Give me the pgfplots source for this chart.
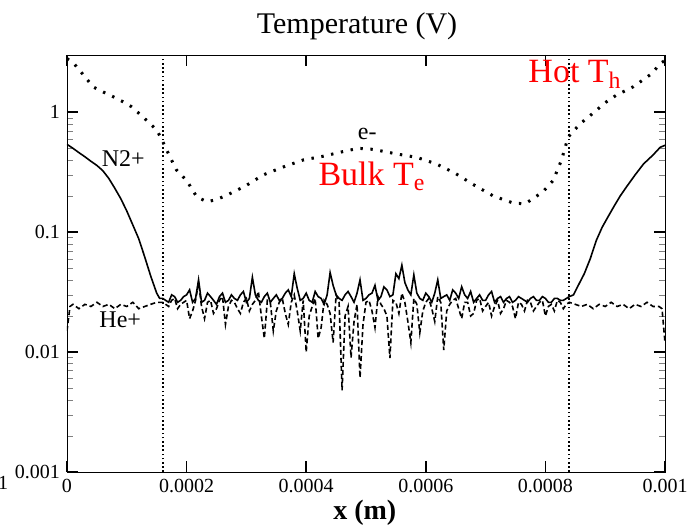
\documentclass[border=0pt]{standalone}
\usepackage{pgfplots}
\pgfplotsset{compat=1.18}
\usepackage{fontspec}
\setmainfont{Liberation Serif}
\begin{document}
\begin{tikzpicture}
\begin{axis}[
  at={(0,0)}, anchor=south west,
  scale only axis, width=299pt, height=208.5pt,
  xmin=0, xmax=0.001, ymode=log, ymin=0.001, ymax=3,
  xtick={0,0.0002,0.0004,0.0006,0.0008,0.001},
  xticklabels={\textrm{0},\textrm{0.0002},\textrm{0.0004},\textrm{0.0006},\textrm{0.0008},\textrm{0.001}},
  ytick={0.001,0.01,0.1,1},
  yticklabels={\textrm{0.001},\textrm{0.01},\textrm{0.1},\textrm{1}},
  scaled x ticks=false,
  tick label style={font=\fontsize{10}{12}\selectfont},
  major tick length=5.5pt,
  major tick style={draw=black, line width=0.8pt},
]
% vertical dotted lines
\addplot[black, line width=0.9pt, dash pattern=on 0.8pt off 1.3pt] coordinates {(0.00016,0.001) (0.00016,3)};
\addplot[black, line width=0.9pt, dash pattern=on 0.8pt off 1.3pt] coordinates {(0.00084,0.001) (0.00084,3)};
% e- dotted
\addplot[black, line width=1.5pt, dash pattern=on 1.2pt off 3.8pt] coordinates {
(0,2.8) (0.00001,2.6) (0.00002,2.27) (0.000044,1.62) (0.00006,1.48) (0.000078,1.34)
(0.000094,1.22) (0.000108,1.11) (0.000122,0.96) (0.000136,0.83) (0.00015,0.71)
(0.000158,0.60) (0.000167,0.48) (0.000183,0.33) (0.0002,0.27) (0.000217,0.197)
(0.000234,0.179) (0.00025,0.187) (0.000267,0.203) (0.000298,0.242) (0.000328,0.30)
(0.000362,0.35) (0.000395,0.40) (0.000429,0.43) (0.000462,0.47) (0.000487,0.50)
(0.000512,0.49) (0.00055,0.45) (0.000585,0.42) (0.000618,0.37) (0.000649,0.31)
(0.000679,0.25) (0.000713,0.20) (0.000746,0.175) (0.000766,0.172) (0.000796,0.217)
(0.000813,0.27) (0.000827,0.40) (0.000838,0.62) (0.000858,0.80) (0.000875,0.94)
(0.000902,1.22) (0.000919,1.39) (0.000947,1.63) (0.000978,2.1) (0.000992,2.55) (0.001,2.7)
};
% He+ dashed
\addplot[black, line width=0.8pt, dash pattern=on 2.5pt off 1.5pt] coordinates {
(0,0.015) (0.000005,0.024) (0.00001,0.025) (0.00002,0.023) (0.00003,0.025) (0.00004,0.024)
(0.00005,0.026) (0.00006,0.024) (0.00007,0.025) (0.00008,0.023) (0.00009,0.025)
(0.0001,0.024) (0.00011,0.026) (0.00012,0.023) (0.00013,0.024) (0.00014,0.025) (0.00015,0.026)
(0.00016,0.026) (0.000165,0.025) (0.00017,0.024) (0.000175,0.027) (0.00018,0.028) (0.000185,0.023)
(0.00019,0.025) (0.000195,0.026) (0.0002,0.027) (0.000205,0.019) (0.00021,0.022) (0.000215,0.027)
(0.00022,0.038) (0.000225,0.024) (0.00023,0.019) (0.000235,0.026) (0.00024,0.027) (0.000245,0.021)
(0.00025,0.023) (0.000255,0.027) (0.00026,0.029) (0.000265,0.017) (0.00027,0.024) (0.000275,0.027)
(0.00028,0.026) (0.000285,0.023) (0.00029,0.021) (0.000295,0.026) (0.0003,0.028) (0.000305,0.022)
(0.00031,0.025) (0.000315,0.027) (0.00032,0.032) (0.000325,0.020) (0.00033,0.013) (0.000335,0.027)
(0.00034,0.026) (0.000345,0.015) (0.00035,0.022) (0.000355,0.026) (0.00036,0.028) (0.000365,0.021)
(0.00037,0.017) (0.000375,0.026) (0.00038,0.030) (0.000385,0.022) (0.00039,0.015) (0.000395,0.027)
(0.0004,0.010) (0.000405,0.020) (0.00041,0.024) (0.000415,0.028) (0.00042,0.013) (0.000425,0.016)
(0.00043,0.027) (0.000435,0.025) (0.00044,0.021) (0.000445,0.012) (0.00045,0.030) (0.000455,0.026)
(0.00046,0.0048) (0.000465,0.020) (0.00047,0.024) (0.000475,0.009) (0.00048,0.018) (0.000485,0.025)
(0.00049,0.0061) (0.000495,0.017) (0.0005,0.026) (0.000505,0.027) (0.00051,0.022) (0.000515,0.016)
(0.00052,0.029) (0.000525,0.025) (0.00053,0.023) (0.000535,0.020) (0.00054,0.0089) (0.000545,0.027)
(0.00055,0.026) (0.000555,0.021) (0.00056,0.031) (0.000565,0.026) (0.00057,0.018) (0.000575,0.012)
(0.00058,0.028) (0.000585,0.025) (0.00059,0.0145) (0.000595,0.022) (0.0006,0.026) (0.000605,0.028)
(0.00061,0.023) (0.000615,0.018) (0.00062,0.029) (0.000625,0.026) (0.00063,0.0104) (0.000635,0.022)
(0.00064,0.025) (0.000645,0.027) (0.00065,0.028) (0.000655,0.023) (0.00066,0.019) (0.000665,0.026)
(0.00067,0.026) (0.000675,0.020) (0.00068,0.021) (0.000685,0.027) (0.00069,0.028) (0.000695,0.022)
(0.0007,0.024) (0.000705,0.026) (0.00071,0.020) (0.000715,0.024) (0.00072,0.027) (0.000725,0.021)
(0.00073,0.023) (0.000735,0.027) (0.00074,0.026) (0.000745,0.024) (0.00075,0.019) (0.000755,0.026)
(0.00076,0.025) (0.000765,0.022) (0.00077,0.027) (0.000775,0.026) (0.00078,0.022) (0.000785,0.024)
(0.00079,0.026) (0.000795,0.027) (0.0008,0.020) (0.000805,0.024) (0.00081,0.025) (0.000815,0.022)
(0.00082,0.027) (0.000825,0.026) (0.00083,0.023) (0.000835,0.025) (0.00084,0.026)
(0.00085,0.025) (0.00086,0.024) (0.00087,0.025) (0.00088,0.023) (0.00089,0.025)
(0.0009,0.024) (0.00091,0.026) (0.00092,0.024) (0.00093,0.025) (0.00094,0.023)
(0.00095,0.025) (0.00096,0.024) (0.00097,0.026) (0.00098,0.024) (0.00099,0.024)
(0.000995,0.023) (0.001,0.012)
};
% N2+ solid
\addplot[black, line width=0.8pt] coordinates {
(0,0.54) (0.00001,0.50) (0.00002,0.46) (0.00003,0.425) (0.00004,0.39) (0.00005,0.36)
(0.00006,0.325) (0.00007,0.28) (0.00008,0.232)
(0.00009,0.19) (0.0001,0.15) (0.00011,0.115) (0.00012,0.088) (0.00013,0.062)
(0.00014,0.043) (0.00015,0.031) (0.000155,0.028)
(0.00016,0.028) (0.000165,0.027) (0.00017,0.026) (0.000175,0.030) (0.00018,0.029) (0.000185,0.026)
(0.00019,0.027) (0.000195,0.029) (0.0002,0.030) (0.000205,0.033) (0.00021,0.026) (0.000215,0.028)
(0.00022,0.040) (0.000225,0.026) (0.00023,0.027) (0.000235,0.031) (0.00024,0.029) (0.000245,0.027)
(0.00025,0.025) (0.000255,0.029) (0.00026,0.031) (0.000265,0.026) (0.00027,0.027) (0.000275,0.030)
(0.00028,0.028) (0.000285,0.027) (0.00029,0.030) (0.000295,0.032) (0.0003,0.026) (0.000305,0.028)
(0.00031,0.042) (0.000315,0.030) (0.00032,0.027) (0.000325,0.026) (0.00033,0.029) (0.000335,0.031)
(0.00034,0.026) (0.000345,0.028) (0.00035,0.030) (0.000355,0.027) (0.00036,0.028) (0.000365,0.031)
(0.00037,0.033) (0.000375,0.029) (0.00038,0.045) (0.000385,0.034) (0.00039,0.027) (0.000395,0.028)
(0.0004,0.031) (0.000405,0.027) (0.00041,0.026) (0.000415,0.032) (0.00042,0.029) (0.000425,0.028)
(0.00043,0.025) (0.000435,0.030) (0.00044,0.046) (0.000445,0.036) (0.00045,0.030) (0.000455,0.028)
(0.00046,0.027) (0.000465,0.030) (0.00047,0.032) (0.000475,0.029) (0.00048,0.026) (0.000485,0.031)
(0.00049,0.040) (0.000495,0.027) (0.0005,0.028) (0.000505,0.030) (0.00051,0.031) (0.000515,0.036)
(0.00052,0.027) (0.000525,0.029) (0.00053,0.035) (0.000535,0.033) (0.00054,0.029) (0.000545,0.030)
(0.00055,0.045) (0.000555,0.041) (0.00056,0.053) (0.000565,0.038) (0.00057,0.033) (0.000575,0.030)
(0.00058,0.044) (0.000585,0.031) (0.00059,0.028) (0.000595,0.027) (0.0006,0.031) (0.000605,0.029)
(0.00061,0.026) (0.000615,0.031) (0.00062,0.040) (0.000625,0.028) (0.00063,0.029) (0.000635,0.030)
(0.00064,0.027) (0.000645,0.033) (0.00065,0.031) (0.000655,0.028) (0.00066,0.035) (0.000665,0.030)
(0.00067,0.028) (0.000675,0.032) (0.00068,0.026) (0.000685,0.028) (0.00069,0.030) (0.000695,0.027)
(0.0007,0.027) (0.000705,0.030) (0.00071,0.032) (0.000715,0.026) (0.00072,0.028) (0.000725,0.029)
(0.00073,0.026) (0.000735,0.028) (0.00074,0.029) (0.000745,0.026) (0.00075,0.027) (0.000755,0.029)
(0.00076,0.028) (0.000765,0.027) (0.00077,0.026) (0.000775,0.028) (0.00078,0.029) (0.000785,0.027)
(0.00079,0.027) (0.000795,0.029) (0.0008,0.028) (0.000805,0.026) (0.00081,0.026) (0.000815,0.028)
(0.00082,0.028) (0.000825,0.027) (0.00083,0.027) (0.000835,0.028) (0.00084,0.029)
(0.000847,0.030) (0.000855,0.036) (0.000865,0.045) (0.000875,0.060) (0.000885,0.085)
(0.000895,0.11) (0.000905,0.135) (0.000915,0.165) (0.000925,0.20) (0.000936,0.24)
(0.00095,0.30) (0.000964,0.37) (0.00098,0.44) (0.000992,0.51) (0.001,0.53)
};
\end{axis}
% texts
\node[font=\fontsize{15}{18}\selectfont] at (0.485*299pt,1.070*208.5pt) {Temperature (V)};
\node[font=\fontsize{14}{17}\selectfont\bfseries] at (0.498*299pt,-0.098*208.5pt) {x (m)};
\node[font=\fontsize{12}{14}\selectfont] at (0.094*299pt,0.751*208.5pt) {N2+};
\node[font=\fontsize{12}{14}\selectfont] at (0.089*299pt,0.365*208.5pt) {He+};
\node[font=\fontsize{12}{14}\selectfont] at (0.502*299pt,0.811*208.5pt) {e-};
\node[font=\fontsize{17}{20}\selectfont, text=red, anchor=base west, inner sep=0pt] at (0.420*299pt,0.688*208.5pt) {Bulk T\textsubscript{e}};
\node[font=\fontsize{17}{20}\selectfont, text=red, anchor=base west, inner sep=0pt] at (0.771*299pt,0.933*208.5pt) {Hot T\textsubscript{h}};
\node[font=\fontsize{10}{12}\selectfont] at (-0.107*299pt,-0.026*208.5pt) {1};
\pgfresetboundingbox
\path (-33.5pt,-28.5pt) rectangle (312pt,236pt);
\end{tikzpicture}
\end{document}
